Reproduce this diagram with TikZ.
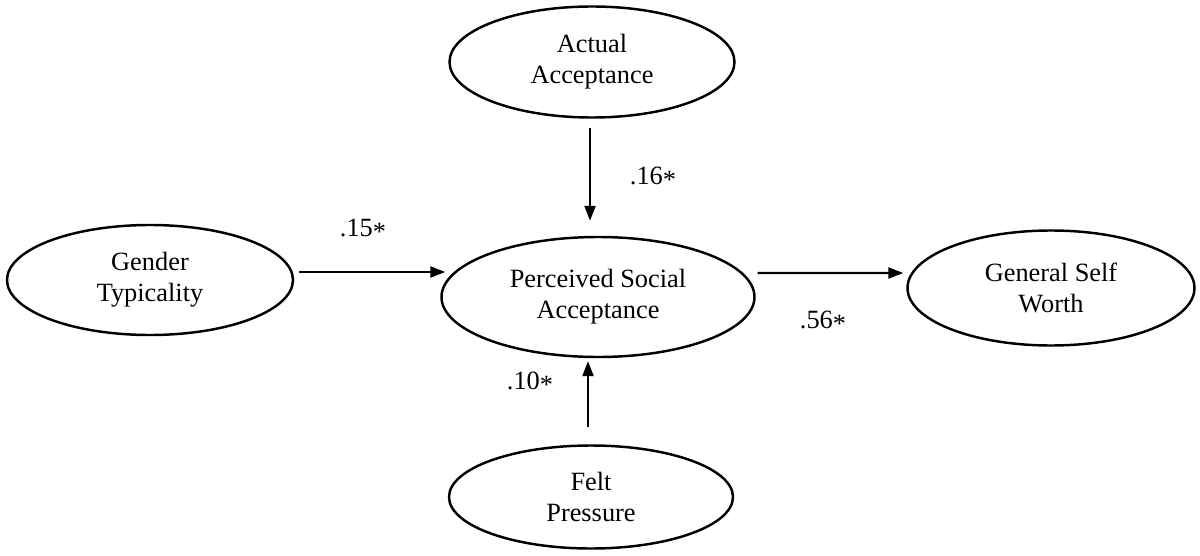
\documentclass[tikz,border=0pt]{standalone}
\usepackage{fontspec}
\setmainfont{Liberation Serif}
\usepackage{tikz}
\usetikzlibrary{arrows.meta,positioning,shapes.geometric}
\newcommand{\sig}{\raisebox{-0.3ex}{*}}
\tikzset{
  latent/.style={draw, ellipse, line width=1.4pt, inner sep=0pt, align=center,
    font=\fontsize{15}{17.5}\selectfont},
  path/.style={-{Triangle[length=0.3cm,width=0.22cm]}, line width=1.3pt},
  coef/.style={font=\fontsize{15}{17.5}\selectfont, inner sep=0pt}
}

\begin{document}
\begin{tikzpicture}
  \useasboundingbox (0,0) rectangle (24,-11.12);

  % === Latent variables ===
  \node[latent, minimum width=5.7cm, minimum height=2.22cm] (act) at (11.84,-1.24) {Actual\\Acceptance};
  \node[latent, minimum width=6.26cm, minimum height=2.4cm] (psa) at (11.96,-5.94) {Perceived Social\\Acceptance};
  \node[latent, minimum width=5.72cm, minimum height=2.2cm] (gen) at (3.0,-5.6) {Gender\\Typicality};
  \node[latent, minimum width=5.74cm, minimum height=2.3cm] (gsw) at (21.02,-5.76) {General Self\\Worth};
  \node[latent, minimum width=5.68cm, minimum height=2.06cm] (felt) at (11.82,-9.94) {Felt\\Pressure};

  % === Paths ===
  \draw[path] ([shift={(-0.04,-0.18)}]act.south) -- ([shift={(-0.16,0.3)}]psa.north);
  \draw[path] ([shift={(0.1,0.16)}]gen.east) -- ([shift={(0.1,0.5)}]psa.west);
  \draw[path] ([shift={(0.04,0.48)}]psa.east) -- ([shift={(-0.06,0.3)}]gsw.west);
  \draw[path] ([shift={(-0.06,0.34)}]felt.north) -- ([shift={(-0.2,-0.06)}]psa.south);

  % Coefficients
  \node[coef] (c16) at (13.06,-3.56) {.16\sig};
  \node[coef] (c15) at (7.26,-4.6) {.15\sig};
  \node[coef] (c56) at (16.46,-6.44) {.56\sig};
  \node[coef] (c10) at (10.6,-7.66) {.10\sig};
\end{tikzpicture}
\end{document}
